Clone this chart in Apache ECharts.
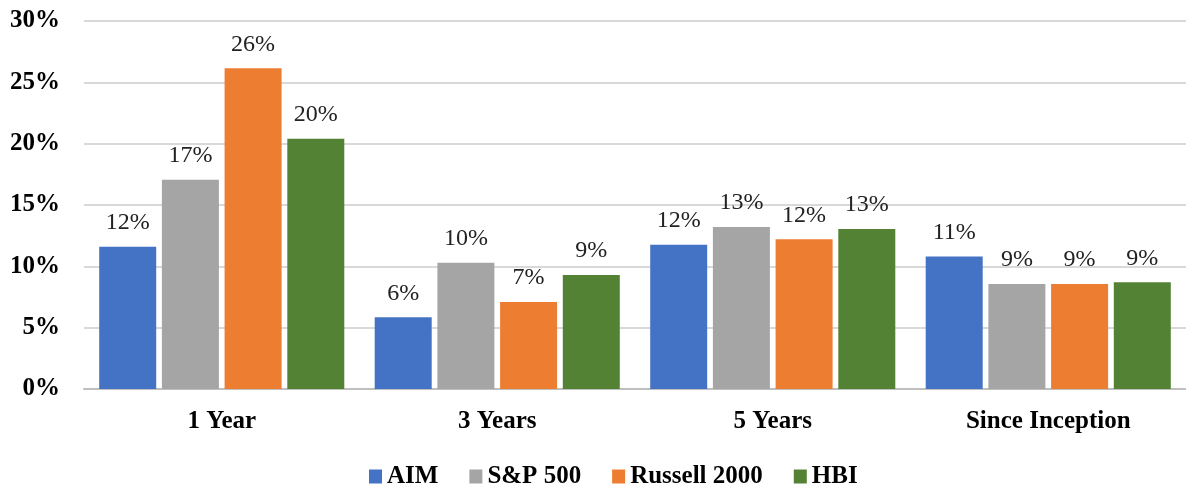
<!DOCTYPE html>
<html>
<head>
<meta charset="utf-8">
<script src="https://cdn.jsdelivr.net/npm/echarts@6/dist/echarts.min.js"></script>
<style>html,body{margin:0;padding:0;background:#fff}#c{width:1186px;height:485px}</style>
</head>
<body>
<div id="c"></div>
<script>
var categories = ['1 Year', '3 Years', '5 Years', 'Since Inception'];
var seriesNames = ['AIM', 'S&P 500', 'Russell 2000', 'HBI'];
var aim = [11.6, 5.85, 11.75, 10.8];
var sp500 = [17.05, 10.3, 13.2, 8.55];
var russell = [26.15, 7.1, 12.2, 8.55];
var hbi = [20.4, 9.3, 13.05, 8.7];
var yTicks = [0, 5, 10, 15, 20, 25, 30];
var colors = ['#4472C4', '#A5A5A5', '#ED7D31', '#548235'];
var values = [aim, sp500, russell, hbi];
var FONT = '"Liberation Serif", "Times New Roman", serif';

var chart = echarts.init(document.getElementById('c'));
chart.setOption({
  animation: false,
  textStyle: { fontFamily: FONT },
  grid: { left: 84, right: 0, top: 21, bottom: 96, containLabel: false },
  legend: {
    data: seriesNames,
    left: 364, top: 459,
    itemWidth: 13, itemHeight: 14, itemGap: 31,
    icon: 'rect',
    textStyle: { fontFamily: FONT, fontSize: 25, fontWeight: 'bold', color: '#000' }
  },
  xAxis: {
    type: 'category',
    data: categories,
    axisTick: { show: false },
    axisLine: { lineStyle: { color: '#bfbfbf', width: 2 } },
    axisLabel: { fontFamily: FONT, fontSize: 25, fontWeight: 'bold', color: '#000', margin: 20 }
  },
  yAxis: {
    type: 'value',
    min: yTicks[0], max: yTicks[yTicks.length - 1], interval: 5,
    axisLine: { show: false },
    axisTick: { show: false },
    splitLine: { lineStyle: { color: '#d9d9d9', width: 2 } },
    axisLabel: { fontFamily: FONT, fontSize: 25, fontWeight: 'bold', color: '#000', margin: 24,
      formatter: function (v) { return v + '%'; } }
  },
  series: seriesNames.map(function (n, i) {
    return {
      name: n, type: 'bar', data: values[i],
      barWidth: 57, barGap: '10%',
      itemStyle: { color: colors[i] },
      label: {
        show: true, position: 'top', distance: 12,
        fontFamily: FONT, fontSize: 24, color: '#222',
        formatter: function (p) { return Math.round(p.value) + '%'; }
      }
    };
  })
});
</script>
</body>
</html>
